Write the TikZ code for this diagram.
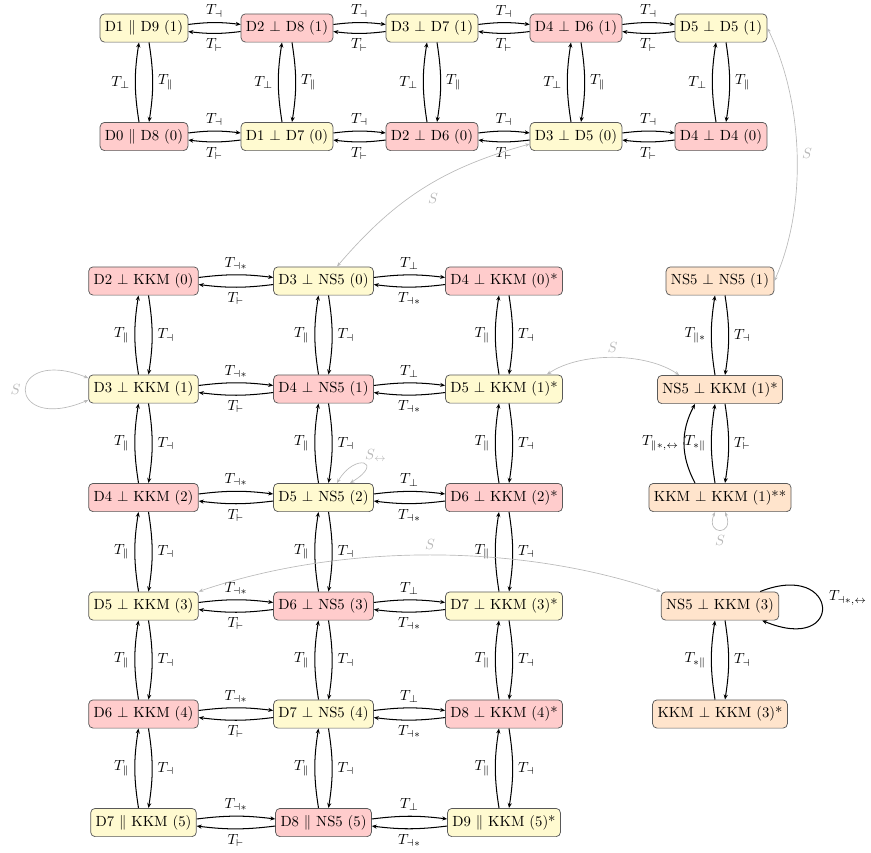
\documentclass[tikz,border=0pt]{standalone}
\usetikzlibrary{calc,arrows.meta}
\definecolor{cy}{RGB}{255,250,208}
\definecolor{cr}{RGB}{255,204,204}
\definecolor{co}{RGB}{255,228,204}
\definecolor{cs}{RGB}{185,185,185}
\tikzset{
  st/.style={draw=black!65, rounded corners=3pt, inner xsep=3.33pt, inner ysep=4.6pt, line width=0.5pt},
  yel/.style={st, fill=cy},
  red/.style={st, fill=cr},
  ora/.style={st, fill=co},
  tr/.style={-{Stealth[length=3.4pt,width=2.8pt]}, line width=0.7pt},
  sedge/.style={{Stealth[length=3pt,width=2.4pt]}-{Stealth[length=3pt,width=2.4pt]}, draw=cs, line width=0.45pt, every node/.append style={text=cs}},
}
\newcommand\HPair[4]{%
  \draw[tr] ([yshift=2.4pt]#1.east) to[bend left=7] node[above]{$#3$} ([yshift=2.4pt]#2.west);
  \draw[tr] ([yshift=-2.4pt]#2.west) to[bend left=7] node[below]{$#4$} ([yshift=-2.4pt]#1.east);}
\newcommand\VPair[4]{%
  \draw[tr] ([xshift=-3.4pt]#2.north) to[bend left=9] node[left]{$#3$} ([xshift=-3.4pt]#1.south);
  \draw[tr] ([xshift=3.4pt]#1.south) to[bend left=9] node[right]{$#4$} ([xshift=3.4pt]#2.north);}
\begin{document}
\begin{tikzpicture}[x=0.68pt,y=0.68pt]
\path[use as bounding box] (0,0) rectangle (871,-852);
% top grid
\node[yel] (t1) at (144,-28) {D1 $\parallel$ D9 (1)};
\node[red] (t2) at (287,-28) {D2 $\perp$ D8 (1)};
\node[yel] (t3) at (432,-28) {D3 $\perp$ D7 (1)};
\node[red] (t4) at (576,-28) {D4 $\perp$ D6 (1)};
\node[yel] (t5) at (721,-28) {D5 $\perp$ D5 (1)};
\node[red] (b1) at (144,-136.5) {D0 $\parallel$ D8 (0)};
\node[yel] (b2) at (287,-136.5) {D1 $\perp$ D7 (0)};
\node[red] (b3) at (432,-136.5) {D2 $\perp$ D6 (0)};
\node[yel] (b4) at (576,-136.5) {D3 $\perp$ D5 (0)};
\node[red] (b5) at (721,-136.5) {D4 $\perp$ D4 (0)};
% lower grid
\node[red] (L0) at (143.5,-281) {D2 $\perp$ KKM (0)};
\node[yel] (L1) at (143.5,-389) {D3 $\perp$ KKM (1)};
\node[red] (L2) at (143.5,-497.5) {D4 $\perp$ KKM (2)};
\node[yel] (L3) at (143.5,-606) {D5 $\perp$ KKM (3)};
\node[red] (L4) at (143.5,-714) {D6 $\perp$ KKM (4)};
\node[yel] (L5) at (143.5,-822.5) {D7 $\parallel$ KKM (5)};
\node[yel] (M0) at (323.5,-281) {D3 $\perp$ NS5 (0)};
\node[red] (M1) at (323.5,-389) {D4 $\perp$ NS5 (1)};
\node[yel] (M2) at (323.5,-497.5) {D5 $\perp$ NS5 (2)};
\node[red] (M3) at (323.5,-606) {D6 $\perp$ NS5 (3)};
\node[yel] (M4) at (323.5,-714) {D7 $\perp$ NS5 (4)};
\node[red] (M5) at (323.5,-822.5) {D8 $\parallel$ NS5 (5)};
\node[red] (R0) at (504,-281) {D4 $\perp$ KKM (0)*};
\node[yel] (R1) at (504,-389) {D5 $\perp$ KKM (1)*};
\node[red] (R2) at (504,-497.5) {D6 $\perp$ KKM (2)*};
\node[yel] (R3) at (504,-606) {D7 $\perp$ KKM (3)*};
\node[red] (R4) at (504,-714) {D8 $\perp$ KKM (4)*};
\node[yel] (R5) at (504,-822.5) {D9 $\parallel$ KKM (5)*};
\node[ora] (X1) at (720,-281) {NS5 $\perp$ NS5 (1)};
\node[ora] (X2) at (720,-389.5) {NS5 $\perp$ KKM (1)*};
\node[ora] (X3) at (720,-497.5) {KKM $\perp$ KKM (1)**};
\node[ora] (X4) at (720,-606) {NS5 $\perp$ KKM (3)};
\node[ora] (X5) at (720,-714) {KKM $\perp$ KKM (3)*};
% top grid edges
\HPair{t1}{t2}{T_{\dashv}}{T_{\vdash}}
\HPair{t2}{t3}{T_{\dashv}}{T_{\vdash}}
\HPair{t3}{t4}{T_{\dashv}}{T_{\vdash}}
\HPair{t4}{t5}{T_{\dashv}}{T_{\vdash}}
\HPair{b1}{b2}{T_{\dashv}}{T_{\vdash}}
\HPair{b2}{b3}{T_{\dashv}}{T_{\vdash}}
\HPair{b3}{b4}{T_{\dashv}}{T_{\vdash}}
\HPair{b4}{b5}{T_{\dashv}}{T_{\vdash}}
\VPair{t1}{b1}{T_{\perp}}{T_{\parallel}}
\VPair{t2}{b2}{T_{\perp}}{T_{\parallel}}
\VPair{t3}{b3}{T_{\perp}}{T_{\parallel}}
\VPair{t4}{b4}{T_{\perp}}{T_{\parallel}}
\VPair{t5}{b5}{T_{\perp}}{T_{\parallel}}
% lower grid edges
\foreach \r in {0,...,5}{
  \HPair{L\r}{M\r}{T_{\dashv *}}{T_{\vdash}}
  \HPair{M\r}{R\r}{T_{\perp}}{T_{\dashv *}}
}
\foreach \r [evaluate=\r as \s using int(\r+1)] in {0,...,4}{
  \VPair{L\r}{L\s}{T_{\parallel}}{T_{\dashv}}
  \VPair{M\r}{M\s}{T_{\parallel}}{T_{\dashv}}
  \VPair{R\r}{R\s}{T_{\parallel}}{T_{\dashv}}
}
% right column
\VPair{X1}{X2}{T_{\parallel *}}{T_{\dashv}}
\VPair{X2}{X3}{T_{* \parallel}}{T_{\vdash}}
\VPair{X4}{X5}{T_{* \parallel}}{T_{\dashv}}
\draw[tr] ([xshift=-17pt]X3.north) to[bend left=28] node[left]{$T_{\parallel *,\leftrightarrow}$} ([xshift=-17pt]X2.south);
\draw[tr] ($(X4.north east)+(-19,0)$) .. controls (840,-560) and (845,-655) .. node[pos=0.4,right=3pt]{$T_{\dashv *,\leftrightarrow}$} ($(X4.south east)+(-17,0)$);
% S edges
\draw[sedge] ($(b4.west)+(0,-7.5)$) to[bend right=17] node[below right]{$S$} ($(M0.north)+(13.5,0)$);
\draw[sedge] (t5.east) .. controls (803,-100) and (808,-205) .. node[right]{$S$} (X1.east);
\draw[sedge] ($(L1.west)+(0,11)$) .. controls (5,-345) and (5,-435) .. node[left]{$S$} ($(L1.west)+(0,-11)$);
\draw[sedge] ($(R1.north east)+(-16,0)$) .. controls (580,-352) and (645,-352) .. node[above]{$S$} ($(X2.north west)+(22,0)$);
\draw[sedge] ($(M2.north)+(13.5,0)$) .. controls (355,-452) and (385,-462) .. node[above right,inner sep=1pt]{$S_{\leftrightarrow}$} ($(M2.north)+(26.5,0)$);
\draw[sedge] ($(X3.south)+(-5,0)$) .. controls (705,-536) and (735,-536) .. node[below]{$S$} ($(X3.south)+(5,0)$);
\draw[sedge] (L3.north east) .. controls (340,-543) and (520,-543) .. node[above]{$S$} (X4.north west);
\end{tikzpicture}
\end{document}
